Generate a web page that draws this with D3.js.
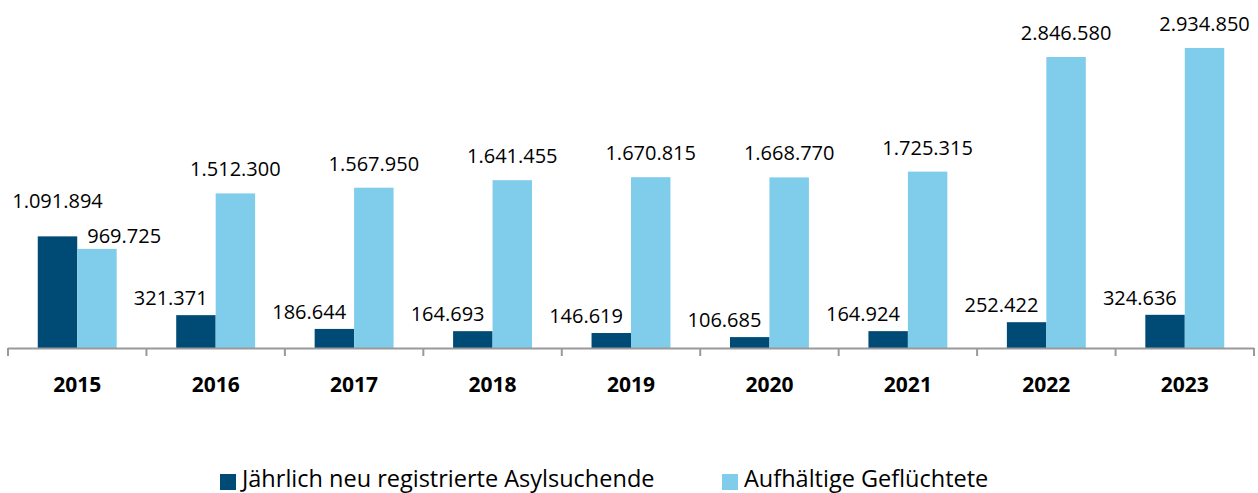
<!DOCTYPE html>
<html>
<head>
<meta charset="utf-8">
<script src="https://cdn.jsdelivr.net/npm/d3@7"></script>
<style>
  body { margin: 0; background: #fff; }
  svg { display: block; font-family: 'Open Sans', sans-serif; }
</style>
</head>
<body>
<svg id="chart" width="1258" height="493"></svg>
<script>
var years = ['2015', '2016', '2017', '2018', '2019', '2020', '2021', '2022', '2023']
var neuRegistriert = [1091894, 321371, 186644, 164693, 146619, 106685, 164924, 252422, 324636]
var aufhaeltig = [969725, 1512300, 1567950, 1641455, 1670815, 1668770, 1725315, 2846580, 2934850]
var seriesNames = ['Jährlich neu registrierte Asylsuchende', 'Aufhältige Geflüchtete']
var colors = ['#004b76', '#80cdeb']

var svg = d3.select('#chart')
var left = 8, right = 1254, baseY = 348

var x = d3.scaleBand().domain(years).range([left, right]).padding(0)
var y = d3.scaleLinear().domain([0, 3000000]).range([baseY, 41.3])
var barW = x.bandwidth() * 0.285

var fmt = function (v) { return d3.format(',')(v).replace(/,/g, '.') }

var data = years.map(function (yr, i) {
  return { year: yr, i: i, a: neuRegistriert[i], b: aufhaeltig[i] }
})

// bars
var g = svg.append('g')
g.selectAll('.barA')
  .data(data)
  .enter().append('rect')
  .attr('class', 'barA')
  .attr('x', function (d) { return x(d.year) + x.bandwidth() / 2 - barW })
  .attr('y', function (d) { return y(d.a) })
  .attr('width', barW)
  .attr('height', function (d) { return baseY - y(d.a) })
  .attr('fill', colors[0])

g.selectAll('.barB')
  .data(data)
  .enter().append('rect')
  .attr('class', 'barB')
  .attr('x', function (d) { return x(d.year) + x.bandwidth() / 2 })
  .attr('y', function (d) { return y(d.b) })
  .attr('width', barW)
  .attr('height', function (d) { return baseY - y(d.b) })
  .attr('fill', colors[1])

// axis
var axis = svg.append('g')
axis.append('line')
  .attr('x1', left).attr('x2', right)
  .attr('y1', baseY + 0.5).attr('y2', baseY + 0.5)
  .attr('stroke', '#999').attr('stroke-width', 2)
var tickPos = years.map(function (yr) { return x(yr) }).concat([right])
axis.selectAll('.tick')
  .data(tickPos)
  .enter().append('line')
  .attr('x1', function (d) { return d }).attr('x2', function (d) { return d })
  .attr('y1', baseY).attr('y2', baseY + 8)
  .attr('stroke', '#999').attr('stroke-width', 2)

axis.selectAll('.yearLabel')
  .data(years)
  .enter().append('text')
  .attr('x', function (d) { return x(d) + x.bandwidth() / 2 })
  .attr('y', 392)
  .attr('text-anchor', 'middle')
  .attr('font-size', 21)
  .attr('font-weight', 'bold')
  .attr('fill', '#000')
  .text(function (d) { return d })

// value labels
g.selectAll('.labelA')
  .data(data)
  .enter().append('text')
  .attr('x', function (d) {
    var c = x(d.year) + x.bandwidth() / 2
    return d.i === 0 ? c - barW / 2 : c - 8
  })
  .attr('y', function (d) { return d.i === 0 ? y(d.a) - 28 : y(d.a) - 10 })
  .attr('text-anchor', function (d) { return d.i === 0 ? 'middle' : 'end' })
  .attr('font-size', 20)
  .attr('fill', '#000')
  .text(function (d) { return fmt(d.a) })

g.selectAll('.labelB')
  .data(data)
  .enter().append('text')
  .attr('x', function (d) {
    var c = x(d.year) + x.bandwidth() / 2
    return d.i === 0 ? c + 10 : c + barW / 2
  })
  .attr('y', function (d) { return d.i === 0 ? y(d.b) - 6 : y(d.b) - 17 })
  .attr('text-anchor', function (d) { return d.i === 0 ? 'start' : 'middle' })
  .attr('font-size', 20)
  .attr('fill', '#000')
  .text(function (d) { return fmt(d.b) })

// legend
var legendX = [220, 722]
var legend = svg.selectAll('.legend')
  .data(seriesNames)
  .enter().append('g')
  .attr('transform', function (d, i) { return 'translate(' + legendX[i] + ',0)' })
legend.append('rect')
  .attr('x', 0).attr('y', 474)
  .attr('width', 16).attr('height', 16)
  .attr('fill', function (d, i) { return colors[i] })
legend.append('text')
  .attr('x', 22).attr('y', 487)
  .attr('font-size', 23.5)
  .attr('fill', '#000')
  .text(function (d) { return d })
</script>
</body>
</html>
